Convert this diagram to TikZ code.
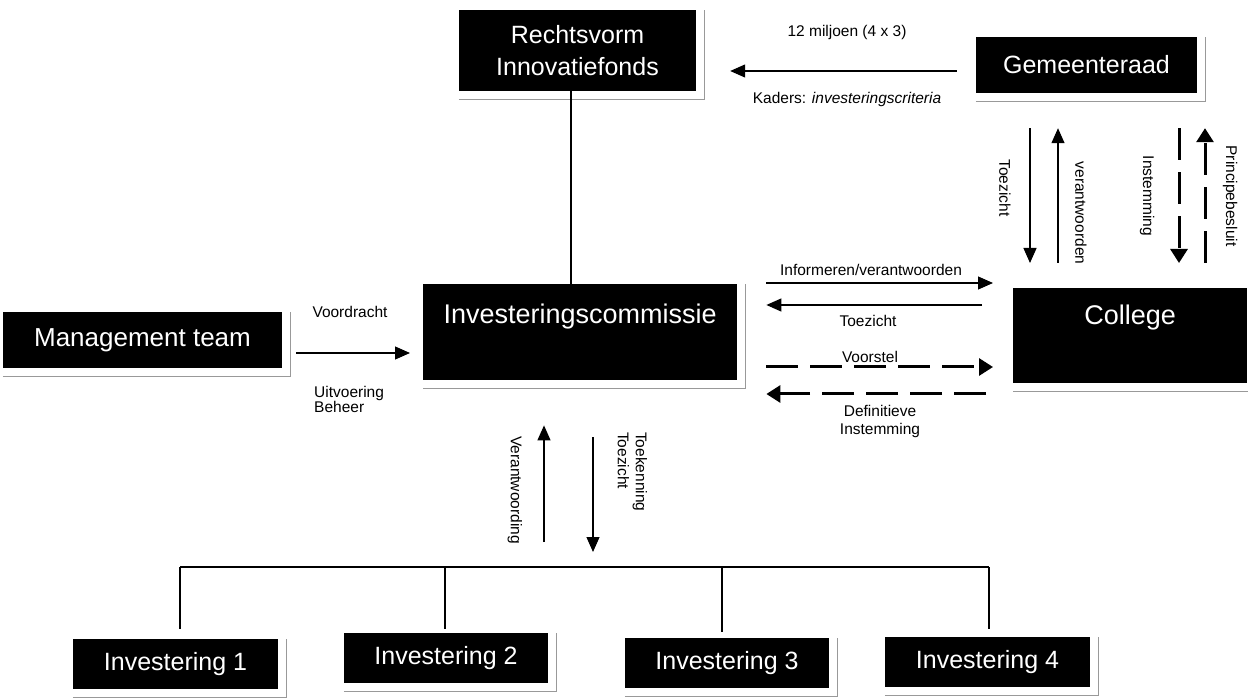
\documentclass[tikz,border=0pt]{standalone}
\usepackage{fontspec}
\setmainfont{Liberation Sans}
\usetikzlibrary{arrows.meta}
\newcommand\boxshadow[1]{\draw[shadowline] ([yshift=-8pt]#1.south west) -- ([xshift=8pt,yshift=-8pt]#1.south east) -- ([xshift=8pt]#1.north east);}
\begin{document}
\begin{tikzpicture}[x=1pt,y=-1pt,
  blackbox/.style={fill=black,text=white,inner sep=0pt},
  shadowline/.style={draw=black!40,line width=1.3pt},
  conn/.style={line width=1.2pt},
  arr/.style={line width=1.2pt,-{Triangle[length=15pt,width=13pt]}},
  darr/.style={line width=3pt,dash pattern=on 32pt off 12pt,-{Triangle[length=14pt,width=17pt]}},
  lbl/.style={font=\fontsize{15.5}{18}\selectfont,inner sep=0pt},
]
\path[fill=white,use as bounding box] (0,0) rectangle (1248,700);
\clip (0,0) rectangle (1248,700);

% boxes
\node[blackbox,align=center,font=\fontsize{25}{32}\selectfont,minimum width=237pt,minimum height=81pt] (rv) at (577.5,50.5) {Rechtsvorm\\Innovatiefonds};
\node[blackbox,font=\fontsize{25}{30}\selectfont,minimum width=221pt,minimum height=56pt] (gr) at (1086.5,65) {Gemeenteraad};
\node[blackbox,font=\fontsize{27}{32}\selectfont,minimum width=314pt,text height=39pt,text depth=57pt,anchor=north west] (ic) at (423,284) {Investeringscommissie};
\node[blackbox,font=\fontsize{27}{32}\selectfont,minimum width=234pt,text height=36.7pt,text depth=58.3pt,anchor=north west] (co) at (1013,288) {College};
\node[blackbox,font=\fontsize{26}{30}\selectfont,minimum width=279pt,minimum height=56pt] (mt) at (142.5,340) {Management team};
\node[blackbox,font=\fontsize{25}{30}\selectfont,minimum width=205pt,minimum height=50pt] (inv1) at (175.5,664) {Investering 1};
\node[blackbox,font=\fontsize{25}{30}\selectfont,minimum width=204pt,minimum height=50pt] (inv2) at (446,658) {Investering 2};
\node[blackbox,font=\fontsize{25}{30}\selectfont,minimum width=204pt,minimum height=50pt] (inv3) at (727,663) {Investering 3};
\node[blackbox,font=\fontsize{25}{30}\selectfont,minimum width=205pt,minimum height=50pt] (inv4) at (987.5,662) {Investering 4};

\boxshadow{rv}
\boxshadow{gr}
\boxshadow{ic}
\boxshadow{co}
\boxshadow{mt}
\boxshadow{inv1}
\boxshadow{inv2}
\boxshadow{inv3}
\boxshadow{inv4}

% Gemeenteraad -> Rechtsvorm
\draw[arr,shorten <=19pt,shorten >=34pt] (gr.west |- 0,71) -- (rv.east |- 0,71);
\node[lbl] (l12) at (847,32) {12 miljoen (4 x 3)};
\node[lbl] (lkad) at (847,99) {Kaders: \textit{investeringscriteria}};

% Rechtsvorm -- Investeringscommissie
\draw[conn] (rv.south -| 571,0) -- (ic.north -| 571,0);

% Management -> IC
\draw[arr,shorten <=14pt,shorten >=13pt] (mt.east |- 0,353) -- (ic.west |- 0,353);
\node[lbl] (lvd) at (350,312) {Voordracht};
\node[lbl,align=left,anchor=north west,font=\fontsize{15.5}{15}\selectfont] (lub) at (314,386) {Uitvoering\\Beheer};

% IC <-> College
\draw[arr,shorten <=29pt,shorten >=20pt] (ic.east |- 0,283) -- (co.west |- 0,283);
\node[lbl] (linf) at (871,270) {Informeren/verantwoorden};
\draw[arr,shorten <=31pt,shorten >=29pt] (co.west |- 0,305) -- (ic.east |- 0,305);
\node[lbl] (ltz1) at (868,321) {Toezicht};
\draw[darr,shorten <=29pt,shorten >=20pt] (ic.east |- 0,367) -- (co.west |- 0,367);
\node[lbl] (lvst) at (870,357) {Voorstel};
\draw[darr,shorten <=27pt,shorten >=29pt] (co.west |- 0,394) -- (ic.east |- 0,394);
\node[lbl,align=center] (ldef) at (880,421) {Definitieve\\Instemming};

% Gemeenteraad <-> College
\draw[arr,shorten <=35pt,shorten >=25pt] (gr.south -| 1030,0) -- (co.north -| 1030,0);
\node[lbl,rotate=-90] (ltz2) at (1005,188) {Toezicht};
\draw[arr,shorten <=25pt,shorten >=35pt] (co.north -| 1058,0) -- (gr.south -| 1058,0);
\node[lbl,rotate=-90] (lver) at (1081,213) {verantwoorden};
\draw[darr,shorten <=35pt,shorten >=25pt] (gr.south -| 1179,0) -- (co.north -| 1179,0);
\node[lbl,rotate=-90] (linst) at (1147,196) {Instemming};
\draw[darr,shorten <=25pt,shorten >=35pt] (co.north -| 1205,0) -- (gr.south -| 1205,0);
\node[lbl,rotate=-90] (lpr) at (1230,196) {Principebesluit};

% bus
\coordinate (b1) at (180,567);
\coordinate (b2) at (445,567);
\coordinate (b3) at (722,567);
\coordinate (b4) at (989,567);
\draw[conn] (b1) -- (b4);
\draw[conn,shorten >=10pt] (b1) -- (inv1.north -| b1);
\draw[conn,shorten >=4pt] (b2) -- (inv2.north -| b2);
\draw[conn,shorten >=6pt] (b3) -- (inv3.north -| b3);
\draw[conn,shorten >=8pt] (b4) -- (inv4.north -| b4);

% IC <-> bus
\draw[arr,shorten <=25pt,shorten >=45pt] (b1 -| 544,0) -- (ic.south -| 544,0);
\node[lbl,rotate=-90] (lvw) at (515,490) {Verantwoording};
\draw[arr,shorten <=57pt,shorten >=15pt] (ic.south -| 593,0) -- (b1 -| 593,0);
\node[lbl,rotate=-90,align=left,anchor=west] (ltk) at (632.5,432) {Toekenning\\Toezicht};
\end{tikzpicture}
\end{document}
